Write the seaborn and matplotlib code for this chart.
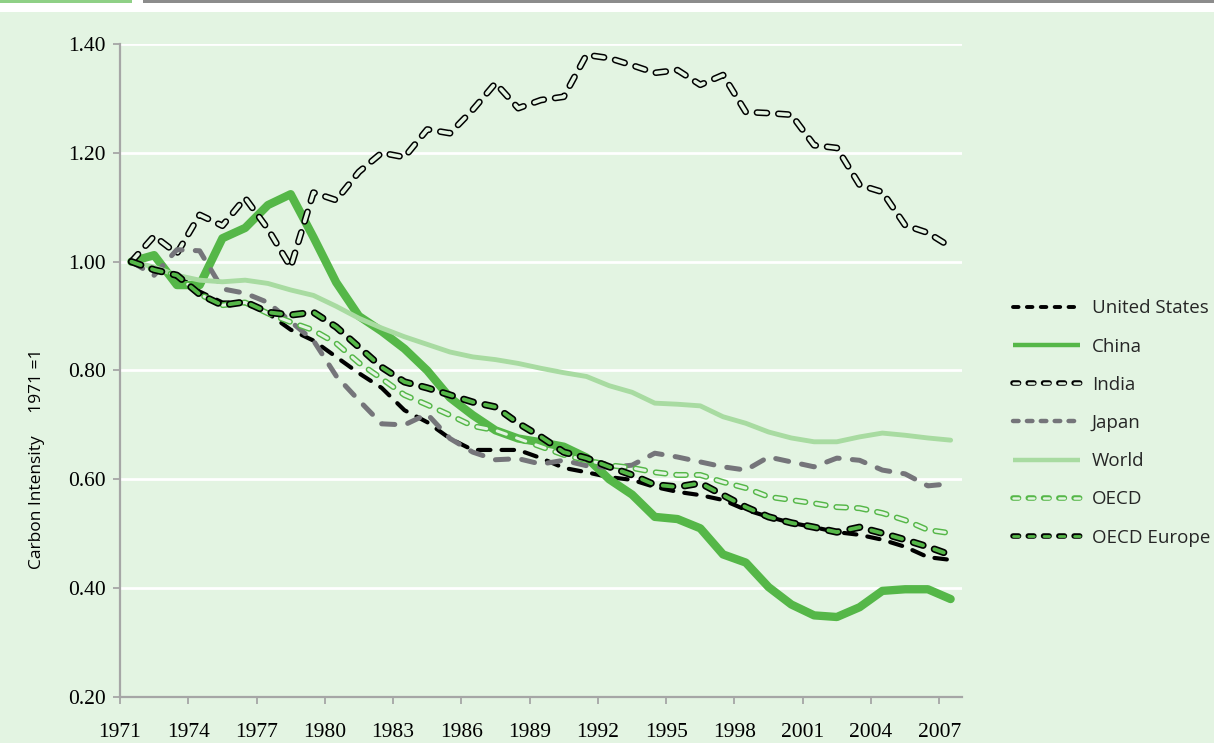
import numpy as np
import pandas as pd

import matplotlib.pyplot as plt
import matplotlib.patches as patches
from matplotlib.lines import Line2D

import seaborn as sns

BG = '#e3f4e2'
GREEN = '#55b748'
LIGHT = '#a8dba1'
GRAY = '#75757a'

years = list(range(1971, 2008))

united_states = [1.00, 0.985, 0.975, 0.945, 0.925, 0.925, 0.905, 0.875, 0.855, 0.825,
                 0.795, 0.768, 0.727, 0.705, 0.675, 0.654, 0.654, 0.654, 0.639, 0.621,
                 0.613, 0.604, 0.599, 0.586, 0.577, 0.571, 0.562, 0.544, 0.531, 0.520,
                 0.512, 0.503, 0.498, 0.489, 0.476, 0.457, 0.452]
china = [1.00, 1.012, 0.957, 0.957, 1.043, 1.062, 1.104, 1.124, 1.045, 0.962,
         0.900, 0.872, 0.840, 0.800, 0.750, 0.718, 0.690, 0.675, 0.668, 0.660,
         0.640, 0.600, 0.572, 0.531, 0.527, 0.510, 0.462, 0.447, 0.402, 0.370,
         0.350, 0.347, 0.365, 0.395, 0.398, 0.398, 0.380]
india = [1.00, 1.047, 1.015, 1.086, 1.066, 1.117, 1.060, 0.990, 1.127, 1.113,
         1.165, 1.200, 1.192, 1.243, 1.236, 1.279, 1.328, 1.282, 1.297, 1.303,
         1.380, 1.374, 1.361, 1.347, 1.352, 1.325, 1.343, 1.275, 1.273, 1.270,
         1.214, 1.209, 1.141, 1.128, 1.067, 1.053, 1.027]
japan = [1.00, 0.975, 1.022, 1.020, 0.950, 0.942, 0.925, 0.890, 0.855, 0.790,
         0.745, 0.702, 0.700, 0.720, 0.675, 0.650, 0.636, 0.638, 0.628, 0.635,
         0.625, 0.622, 0.626, 0.648, 0.641, 0.632, 0.623, 0.617, 0.641, 0.632,
         0.623, 0.639, 0.635, 0.617, 0.610, 0.588, 0.592]
world = [1.00, 0.990, 0.975, 0.966, 0.963, 0.966, 0.960, 0.948, 0.938, 0.918,
         0.896, 0.878, 0.862, 0.848, 0.834, 0.825, 0.820, 0.813, 0.804, 0.796,
         0.789, 0.772, 0.760, 0.740, 0.738, 0.735, 0.715, 0.703, 0.687, 0.676,
         0.669, 0.669, 0.678, 0.685, 0.681, 0.676, 0.672]
oecd = [1.00, 0.985, 0.975, 0.940, 0.920, 0.925, 0.905, 0.889, 0.874, 0.850,
        0.814, 0.785, 0.755, 0.737, 0.718, 0.698, 0.690, 0.675, 0.660, 0.645,
        0.635, 0.626, 0.621, 0.613, 0.608, 0.608, 0.595, 0.584, 0.568, 0.562,
        0.556, 0.549, 0.547, 0.538, 0.525, 0.507, 0.501]
oecd_europe = [1.00, 0.985, 0.975, 0.940, 0.920, 0.926, 0.907, 0.902, 0.907, 0.880,
               0.843, 0.806, 0.779, 0.768, 0.755, 0.742, 0.733, 0.703, 0.678, 0.650,
               0.639, 0.623, 0.608, 0.590, 0.586, 0.593, 0.571, 0.549, 0.531, 0.520,
               0.512, 0.503, 0.512, 0.501, 0.489, 0.476, 0.461]

series = ['United States', 'China', 'India', 'Japan', 'World', 'OECD', 'OECD Europe']
x_ticks = list(range(1971, 2008, 3))
y_ticks = [0.20, 0.40, 0.60, 0.80, 1.00, 1.20, 1.40]

df = pd.DataFrame({'year': years, 'United States': united_states, 'China': china,
                   'India': india, 'Japan': japan, 'World': world, 'OECD': oecd,
                   'OECD Europe': oecd_europe})
# category axis: points sit in the middle of each year slot
df['pos'] = df['year'] + 0.5

# each series is one or two strokes (outline + fill for the hollow dashes)
styles = {
    'United States': [dict(color='black', lw=3.0, ls=(0, (9, 8)))],
    'China': [dict(color=GREEN, lw=6.0, ls='-')],
    'India': [dict(color='black', lw=4.8, ls=(0, (7.2, 8.2))),
              dict(color=BG, lw=2.6, ls=(0, (7.2, 8.2)))],
    'Japan': [dict(color=GRAY, lw=3.6, ls=(0, (9.5, 9.5)))],
    'World': [dict(color=LIGHT, lw=3.5, ls='-')],
    'OECD': [dict(color=GREEN, lw=4.3, ls=(0, (7, 7.8))),
             dict(color=BG, lw=2.2, ls=(0, (7, 7.8)))],
    'OECD Europe': [dict(color='black', lw=5.2, ls=(0, (7.2, 8.6))),
                    dict(color=GREEN, lw=2.8, ls=(0, (7.2, 8.6)))],
}
legend_styles = {
    'United States': [dict(color='black', lw=2.8, ls=(0, (4, 6)))],
    'China': [dict(color=GREEN, lw=3.2, ls='-')],
    'India': [dict(color='black', lw=4.0, ls=(0, (4, 7))),
              dict(color=BG, lw=1.8, ls=(0, (4, 7)))],
    'Japan': [dict(color=GRAY, lw=3.2, ls=(0, (4, 6)))],
    'World': [dict(color=LIGHT, lw=3.2, ls='-')],
    'OECD': [dict(color=GREEN, lw=4.0, ls=(0, (4, 7))),
             dict(color=BG, lw=1.8, ls=(0, (4, 7)))],
    'OECD Europe': [dict(color='black', lw=4.0, ls=(0, (4, 7))),
                    dict(color=GREEN, lw=2.0, ls=(0, (4, 7)))],
}

sns.set_theme(style='white')
plt.rcParams['lines.scale_dashes'] = False
plt.rcParams['font.family'] = ['Liberation Serif', 'DejaVu Serif']

fig = plt.figure(figsize=(12.14, 7.43), dpi=100, facecolor=BG)
W, H = 1214, 743

# header strip
fig.patches.append(patches.Rectangle((0, 1 - 12 / H), 1, 12 / H, transform=fig.transFigure,
                                     facecolor='white', edgecolor='none'))
fig.patches.append(patches.Rectangle((0, 1 - 3 / H), 132 / W, 3 / H, transform=fig.transFigure,
                                     facecolor='#8fd086', edgecolor='none'))
fig.patches.append(patches.Rectangle((143 / W, 1 - 3 / H), 1 - 143 / W, 3 / H,
                                     transform=fig.transFigure, facecolor='#8c8c8c',
                                     edgecolor='none'))

ax = fig.add_axes([120 / W, 46 / H, 842 / W, 653 / H])
ax.set_facecolor(BG)

for name in series:
    for st in styles[name]:
        sns.lineplot(data=df, x='pos', y=name, ax=ax, color=st['color'], linewidth=st['lw'],
                     linestyle=st['ls'], dash_capstyle='round', solid_capstyle='round',
                     dash_joinstyle='round', solid_joinstyle='round', legend=False)

ax.set_xlim(1971, 2008)
ax.set_ylim(0.2, 1.4)
ax.set_xticks(x_ticks)
ax.set_xticklabels([str(y) for y in x_ticks])
ax.set_yticks(y_ticks)
ax.set_yticklabels(['{:.2f}'.format(v) for v in y_ticks])
ax.set_xlabel('')
ax.set_ylabel('')
ax.yaxis.grid(True, color='white', lw=2)
ax.xaxis.grid(False)
ax.set_axisbelow(True)
for s in ['top', 'right']:
    ax.spines[s].set_visible(False)
for s in ['left', 'bottom']:
    ax.spines[s].set_color('#a6a6a6')
    ax.spines[s].set_linewidth(1.6)
ax.tick_params(axis='both', which='both', direction='out', length=5, width=1.3,
               color='#a6a6a6', labelsize=15.5, labelcolor='black')
ax.tick_params(axis='y', pad=5, left=True)
ax.tick_params(axis='x', pad=14, bottom=True)

fig.text(37 / W, 1 - 459 / H, 'Carbon Intensity     1971 =1', rotation=90, ha='center',
         va='center', family=['Open Sans', 'DejaVu Sans'], size=12.5, color='black')

handles = []
for name in series:
    parts = tuple(Line2D([], [], color=st['color'], lw=st['lw'], ls=st['ls'],
                         dash_capstyle='round', solid_capstyle='butt')
                  for st in legend_styles[name])
    handles.append(parts if len(parts) > 1 else parts[0])
fig.legend(handles, series, loc='center left', bbox_to_anchor=(1013 / W, 1 - 423 / H),
           frameon=False, borderpad=0, borderaxespad=0, handlelength=3.57,
           handletextpad=0.64, labelspacing=1.08,
           prop={'family': ['Open Sans', 'DejaVu Sans'], 'size': 13.5})

fig.savefig('out.png', dpi=100, facecolor=BG)
